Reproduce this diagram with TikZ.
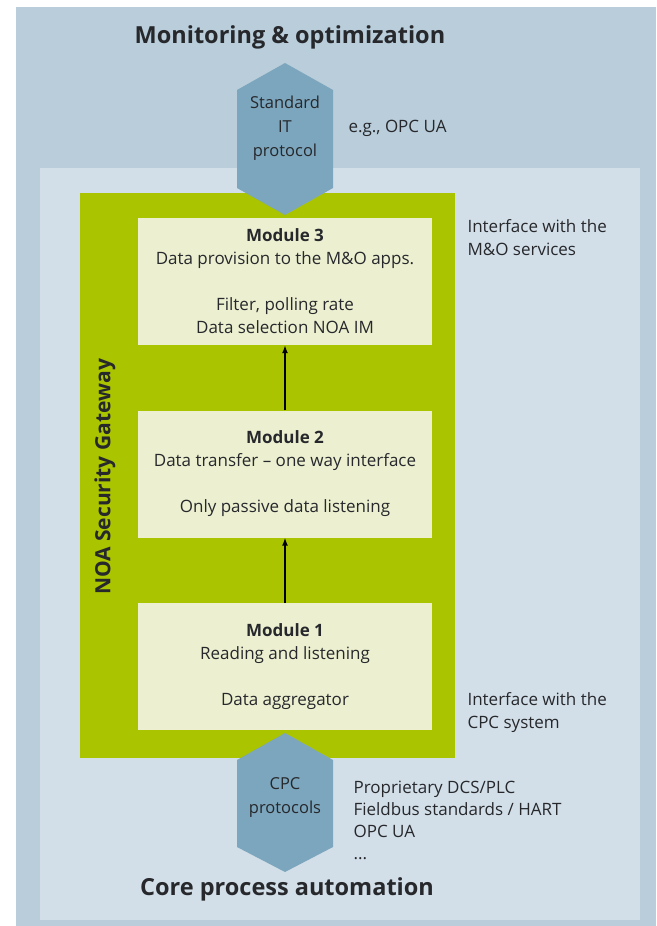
\documentclass[tikz,border=0pt]{standalone}
\usepackage{fontspec}
\setmainfont{Open Sans}
\usetikzlibrary{arrows.meta}

\definecolor{outerbg}{RGB}{185,205,218}
\definecolor{innerbg}{RGB}{211,223,232}
\definecolor{gwgreen}{RGB}{170,196,0}
\definecolor{modfill}{RGB}{236,240,208}
\definecolor{hexblue}{RGB}{124,166,189}
\definecolor{txt}{RGB}{38,40,44}

\tikzset{
    module/.style={rectangle, fill=modfill, minimum width=294pt,
        minimum height=127pt, align=center, text=txt,
        font=\fontsize{17}{23}\selectfont},
    note/.style={anchor=west, align=left, text=txt,
        font=\fontsize{17}{23}\selectfont},
    hextext/.style={align=center, text=txt,
        font=\fontsize{16.5}{24}\selectfont},
    heading/.style={text=txt, font=\fontsize{23.5}{28}\selectfont\bfseries},
    flow/.style={line width=1.5pt, -{Latex[length=8pt,width=6pt]}}
}

\begin{document}
\begin{tikzpicture}[x=1pt, y=-1pt]
    \useasboundingbox (0,0) rectangle (656,926);
    \fill [white] (0,0) rectangle (656,926);
    \fill [outerbg] (16,7) rectangle (656,926);
    \fill [innerbg] (40,168) rectangle (640,920);
    \fill [gwgreen] (80,193) rectangle (455,758);

    % protocol hexagons
    \fill [hexblue] (237,90) -- (285,63) -- (333,90) -- (333,188) --
        (285,215) -- (237,188) -- cycle;
    \fill [hexblue] (237,760) -- (285,733) -- (333,760) -- (333,847) --
        (285,872) -- (237,847) -- cycle;

    \node [module] (mod3) at (285,281.5) {\textbf{Module 3}\\Data provision
        to the M\&O apps.\\[23pt]Filter, polling rate\\Data selection NOA IM};
    \node [module] (mod2) at (285,474) {\textbf{Module 2}\\Data transfer
        -- one way interface\\[23pt]Only passive data listening};
    \node [module] (mod1) at (285,666.5) {\textbf{Module 1}\\Reading and
        listening\\[23pt]Data aggregator};

    \draw [flow] (mod1.north) -- (mod2.south);
    \draw [flow] (mod2.north) -- (mod3.south);

    \node [text=txt, rotate=90, font=\fontsize{21}{24}\selectfont\bfseries]
        (gw) at (105,477) {NOA Security Gateway};

    \node [hextext] (itproto) at (285,128) {Standard\\IT\\protocol};
    \node [hextext] (cpcproto) at (285,797) {CPC\\protocols};

    \node [heading] (mo) at (290,37) {Monitoring \& optimization};
    \node [heading] (cpa) at (287,889) {Core process automation};

    \node [note] (eg) at (345,128) {e.g., OPC UA};
    \node [note] (mosvc) at (464,238) {Interface with the\\M\&O services};
    \node [note] (cpcsys) at (464,713) {Interface with the\\CPC system};
    \node [note, font=\fontsize{17}{22}\selectfont] (cpclist) at (350,820)
        {Proprietary DCS/PLC\\Fieldbus standards / HART\\OPC UA\\...};
\end{tikzpicture}
\end{document}
